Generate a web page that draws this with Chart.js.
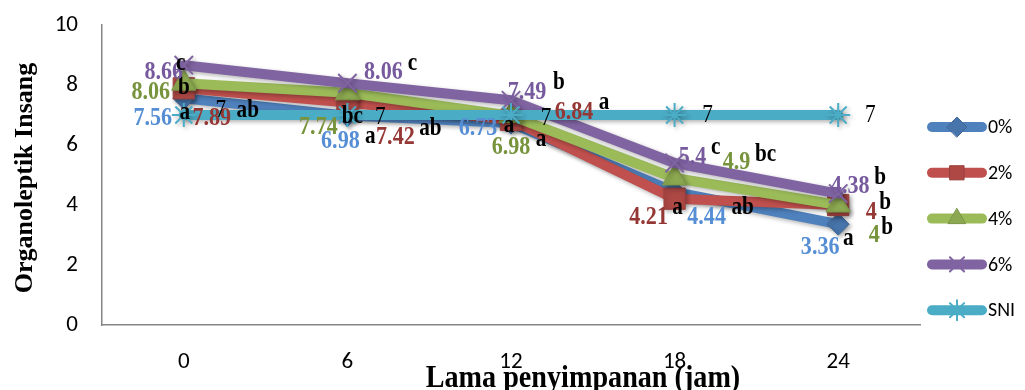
<!DOCTYPE html>
<html>
<head>
<meta charset="utf-8">
<script src="https://cdn.jsdelivr.net/npm/chart.js@4.4.1/dist/chart.umd.min.js"></script>
<style>
  html, body { margin: 0; padding: 0; background: #ffffff; }
  #wrap { width: 1025px; height: 390px; position: relative; }
</style>
</head>
<body>
<div id="wrap"><canvas id="c" width="1025" height="390"></canvas></div>
<script>
// ---------- DATA ----------
const categories = ['0', '6', '12', '18', '24'];
const seriesNames = ['0%', '2%', '4%', '6%', 'SNI'];
const values0 = [7.56, 6.98, 6.73, 4.44, 3.36];
const values2 = [7.89, 7.42, 6.84, 4.21, 4];
const values4 = [8.06, 7.74, 6.98, 4.9, 4];
const values6 = [8.66, 8.06, 7.49, 5.4, 4.38];
const valuesSNI = [7, 7, 7, 7, 7];
const letters0 = ['a', 'a', 'a', 'ab', 'a'];
const letters2 = ['ab', 'ab', 'a', 'a', 'b'];
const letters4 = ['b', 'bc', 'a', 'bc', 'b'];
const letters6 = ['c', 'c', 'b', 'c', 'b'];
const yMin = 0, yMax = 10, yStep = 2;

// ---------- STYLE ----------
const lineColors = ['#4F81BD', '#C0504D', '#9BBB59', '#8064A2', '#4BACC6'];
const labelColors = ['#558ED5', '#953735', '#77933C', '#775A9D', '#000000'];
const pointStyles = ['rectRot', 'rect', 'triangle', 'crossRot', 'star'];
const pointRadii = [11, 15, 14, 13, 12];
// label offsets (px, relative to each point) for value text and letter text
const valueOffsets = [
  [[-31, 20], [-7, 26], [-33, 5], [32, 25], [-18, 23]],
  [[28, 30], [48, 35], [63, -8], [-26, 19], [33, 7]],
  [[-33, 9], [-29, 34], [0, 32], [62, -16], [36, 30]],
  [[-20, 7], [36, -11], [16, -8], [18, -6], [12, -7]],
  [[37, -5], [33, 2], [35, 3], [33, 0], [32, 0]]
];
const letterOffsets = [
  [[1, 14], [23, 21], [-2, 2], [68, 16], [10, 14]],
  [[64, 22], [83, 26], [93, -17], [3, 9], [47, -2]],
  [[0, 4], [5, 24], [30, 24], [91, -23], [49, 23]],
  [[-3, -2], [65, -20], [48, -18], [41, -15], [42, -16]]
];

const allValues = [values0, values2, values4, values6, valuesSNI];
const allLetters = [letters0, letters2, letters4, letters6];

function darker(hex, f) {
  const n = parseInt(hex.slice(1), 16);
  const r = Math.round(((n >> 16) & 255) * f), g = Math.round(((n >> 8) & 255) * f), b = Math.round((n & 255) * f);
  return 'rgb(' + r + ',' + g + ',' + b + ')';
}

const datasets = allValues.map((vals, i) => ({
  label: seriesNames[i],
  data: vals,
  borderColor: lineColors[i],
  backgroundColor: lineColors[i],
  borderWidth: 10,
  borderCapStyle: 'round',
  borderJoinStyle: 'round',
  pointStyle: pointStyles[i],
  pointRadius: pointRadii[i],
  pointHoverRadius: pointRadii[i],
  pointBackgroundColor: (i === 3 || i === 4) ? lineColors[i] : darker(lineColors[i], 0.9),
  pointBorderColor: (i === 3 || i === 4) ? lineColors[i] : darker(lineColors[i], 0.8),
  pointBorderWidth: (i === 3 || i === 4) ? 2 : 1,
  tension: 0,
  clip: false,
  order: 5 - i
}));

function drawText(ctx, s, x, y, font, color, sx, align) {
  ctx.save();
  ctx.translate(x, y);
  ctx.scale(sx, 1);
  ctx.font = font;
  ctx.fillStyle = color;
  ctx.textAlign = align || 'center';
  ctx.textBaseline = 'middle';
  ctx.fillText(s, 0, 0);
  ctx.restore();
}

const shadowPlugin = {
  id: 'shadow',
  beforeDatasetDraw(chart) {
    const ctx = chart.ctx;
    ctx.save();
    ctx.shadowColor = 'rgba(0,0,0,0.3)';
    ctx.shadowBlur = 4;
    ctx.shadowOffsetX = 2;
    ctx.shadowOffsetY = 2;
  },
  afterDatasetDraw(chart) {
    chart.ctx.restore();
  }
};

const labelPlugin = {
  id: 'labels',
  afterDatasetsDraw(chart) {
    const ctx = chart.ctx;
    allValues.forEach((vals, i) => {
      const meta = chart.getDatasetMeta(i);
      meta.data.forEach((pt, j) => {
        const vo = valueOffsets[i][j];
        const isSNI = i === 4;
        drawText(ctx, String(vals[j]), pt.x + vo[0], pt.y + vo[1],
          isSNI ? '25px "Liberation Serif", serif' : 'bold 26px "Liberation Serif", serif',
          labelColors[i], 0.85, 'center');
        if (!isSNI) {
          const lo = letterOffsets[i][j];
          drawText(ctx, allLetters[i][j], pt.x + lo[0], pt.y + lo[1],
            'bold 25px "Liberation Serif", serif', '#000000', 0.85, 'center');
        }
      });
    });
  },
  afterDraw(chart) {
    const ctx = chart.ctx;
    // axis titles
    ctx.save();
    ctx.translate(25, 178);
    ctx.rotate(-Math.PI / 2);
    ctx.font = 'bold 26px "Liberation Serif", serif';
    ctx.fillStyle = '#000';
    ctx.textAlign = 'center';
    ctx.textBaseline = 'middle';
    ctx.fillText('Organoleptik Insang', 0, 0);
    ctx.restore();
    ctx.save();
    ctx.translate(583, 387);
    ctx.scale(0.88, 1);
    ctx.font = 'bold 32px "Liberation Serif", serif';
    ctx.fillStyle = '#000';
    ctx.textAlign = 'center';
    ctx.textBaseline = 'alphabetic';
    ctx.fillText('Lama penyimpanan (jam)', 0, 0);
    ctx.restore();
    // legend
    seriesNames.forEach((name, i) => {
      const y = 127 + i * 45.8;
      ctx.save();
      ctx.strokeStyle = lineColors[i];
      ctx.lineWidth = 10;
      ctx.lineCap = 'round';
      ctx.beginPath();
      ctx.moveTo(932, y);
      ctx.lineTo(982, y);
      ctx.stroke();
      ctx.fillStyle = datasets[i].pointBackgroundColor;
      ctx.strokeStyle = datasets[i].pointBorderColor;
      ctx.lineWidth = datasets[i].pointBorderWidth;
      Chart.helpers.drawPoint(ctx, { pointStyle: pointStyles[i], radius: 10, rotation: 0, borderWidth: datasets[i].pointBorderWidth }, 957, y);
      ctx.restore();
      drawText(ctx, name, 988, y + 1, '21px Carlito, Lato, sans-serif', '#000', 0.95, 'left');
    });
  }
};

new Chart(document.getElementById('c'), {
  type: 'line',
  data: { labels: categories, datasets: datasets },
  plugins: [shadowPlugin, labelPlugin],
  options: {
    responsive: false,
    animation: false,
    layout: { autoPadding: false, padding: { left: 0, right: 105, top: 25, bottom: 0 } },
    plugins: { legend: { display: false }, tooltip: { enabled: false } },
    scales: {
      x: {
        type: 'category',
        offset: true,
        grid: { display: false, drawTicks: false },
        border: { display: true, color: '#868686', width: 1.5 },
        ticks: { color: '#000', padding: 23, font: { family: 'Carlito, Lato, sans-serif', size: 23 }, maxRotation: 0 },
        afterFit(s) { s.height = 65; s.paddingTop = 0; s.paddingBottom = 0; }
      },
      y: {
        min: yMin, max: yMax,
        grid: { display: false, drawTicks: false },
        border: { display: true, color: '#868686', width: 1.5 },
        ticks: { stepSize: yStep, color: '#000', padding: 24, font: { family: 'Carlito, Lato, sans-serif', size: 23 } },
        afterFit(s) { s.width = 102; s.paddingTop = 0; s.paddingBottom = 0; }
      }
    }
  }
});
</script>
</body>
</html>
